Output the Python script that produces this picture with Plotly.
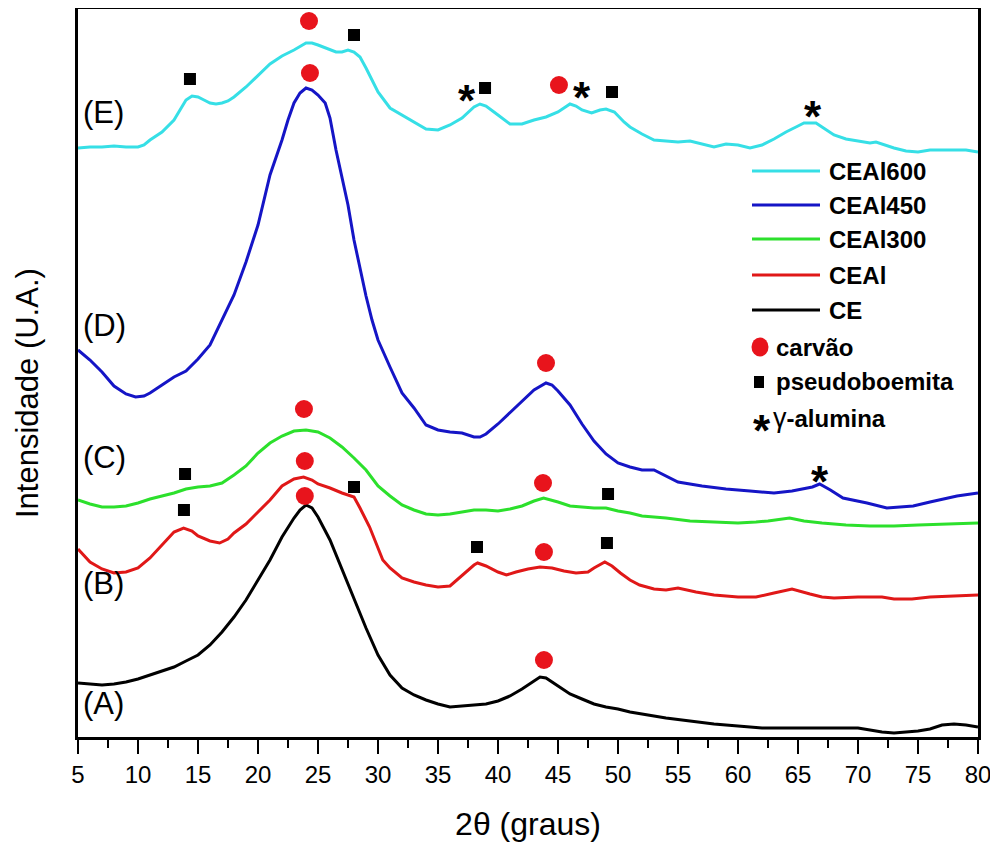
import plotly.graph_objects as go

# ---------------- data (2θ in degrees, intensity in arbitrary units) ----------------
ce_x = [5, 6, 7, 8, 9, 10, 11, 12, 13, 14, 15, 16, 17, 18, 19, 20, 21, 22, 23, 23.5, 24, 24.5, 25,
        26, 27, 28, 29, 30, 31, 32, 33, 34, 35, 36, 37, 38, 39, 40, 41, 42, 43, 43.5, 44,
        45, 46, 47, 48, 49, 50, 51, 52, 54, 56, 58, 60, 62, 64, 66, 68, 70,
        71, 72, 73, 74, 75, 76, 77, 78, 79, 80]
ce_y = [54, 53, 52, 53, 55, 58, 62, 66, 70, 76, 82, 92, 105, 120, 137, 157, 177, 200, 219, 227, 232, 229, 220,
        197, 167, 137, 109, 82, 62, 49, 42, 37, 33, 30, 31, 32, 33, 36, 41, 48, 56, 60, 59,
        51, 43, 38, 33, 30, 28, 25, 23, 19, 16, 13, 11, 9, 9, 9, 9, 9,
        7, 5, 4, 5, 6, 8, 12, 13, 12, 10]

ceal_x = [5, 5.5, 6, 7, 8, 9, 10, 11, 12, 13, 13.8, 14.5, 15, 16, 16.8, 17.5, 18, 19, 20, 21, 22, 23, 23.8,
          24.5, 25, 26, 27, 28, 28.5, 29.3, 30.4, 31, 32, 33, 34, 35, 36, 37, 38, 38.3, 39, 40, 40.7,
          41.5, 42.5, 43.5, 44.5, 45.5, 46.5, 47.5, 48, 48.9, 49.5, 50.2, 51, 51.8, 53, 54, 55, 56.5,
          58, 60, 61.5, 63, 64.5, 66, 67, 68, 70, 72, 73, 74.5, 76, 78, 80]
ceal_y = [188, 182, 175, 168, 164, 165, 169, 179, 192, 205, 209, 206, 201, 196, 194, 198, 204, 213, 225, 237, 251, 258, 260,
          257, 253, 249, 244, 240, 229, 210, 177, 169, 159, 155, 152, 150, 151, 162, 172, 174, 171, 165, 162,
          165, 168, 170, 169, 166, 164, 165, 169, 175, 171, 164, 157, 152, 148, 147, 149, 145,
          142, 140, 140, 144, 148, 143, 140, 139, 140, 140, 138, 138, 140, 141, 142]

ceal300_x = [5, 6, 7, 8, 9, 10, 11, 12, 13, 14, 15, 16, 17, 18, 19, 20, 21, 22, 23, 24, 25, 26, 27, 28, 29,
             30, 31, 32, 33, 34, 35, 36, 37, 38, 39, 40, 41, 42, 43, 43.8, 45, 46, 47, 48, 49, 50, 51, 52,
             54, 56, 58, 60, 61.5, 62.5, 64.3, 65.5, 67, 69, 71, 73, 75, 77, 79, 80]
ceal300_y = [237, 233, 230, 230, 231, 234, 238, 241, 244, 248, 250, 251, 254, 262, 271, 284, 294, 301, 306, 307, 305, 299, 290, 279, 267,
             251, 241, 232, 227, 223, 222, 223, 225, 227, 227, 226, 228, 231, 236, 239, 235, 231, 230, 229, 229, 226, 224, 221,
             219, 216, 215, 214, 215, 216, 219, 216, 214, 212, 211, 211, 212, 213, 214, 214]

ceal450_x = [5, 6, 7, 8, 9, 9.8, 10.5, 11, 12, 13, 14, 15, 16, 17, 18, 19, 20, 21, 22, 22.5, 23, 23.5, 24, 24.5,
             25, 25.6, 26, 26.5, 27, 27.5, 28, 28.5, 29, 29.5, 30, 31, 32, 33, 34, 35, 36, 37, 38, 38.5, 39,
             40, 41, 42, 43, 44, 44.5, 45, 46, 47, 48, 49, 50, 51, 52, 53, 54, 55, 57, 59, 61, 63, 64.5,
             65.5, 66.2, 66.8, 67.7, 68.75, 70.75, 72.4, 74.6, 76, 78.25, 80]
ceal450_y = [387, 377, 365, 351, 343, 340, 341, 344, 352, 360, 366, 378, 392, 417, 442, 475, 512, 562, 597, 617, 634, 644, 649, 647,
             642, 634, 619, 587, 559, 532, 497, 469, 441, 417, 397, 370, 344, 329, 312, 307, 305, 304, 300, 300, 303,
             313, 324, 335, 347, 354, 352, 346, 332, 313, 296, 283, 274, 270, 267, 267, 261, 255, 251, 248, 246, 244, 246,
             248, 250, 253, 247, 239, 234, 229, 231, 235, 241, 244]

ceal600_x = [5, 6, 7, 8, 9, 10, 10.5, 11, 12, 13, 13.5, 14, 14.5, 15, 15.5, 16, 16.5, 17, 17.5, 18, 19, 20, 21, 22, 23,
             24, 24.5, 25, 26, 26.5, 27, 27.5, 28, 28.5, 29, 29.5, 30, 31, 32, 33, 34, 35, 36, 37, 38, 38.5, 39,
             40, 41, 42, 43, 44, 45, 46, 46.5, 47, 47.8, 48.5, 49, 49.7, 50.5, 51, 52, 53, 54, 55, 56, 57, 58,
             59, 60, 61, 62, 63, 64, 65, 65.5, 66, 66.5, 67, 68, 69, 70, 71, 71.5, 72, 73, 74, 75, 76, 77, 78, 79, 80]
ceal600_y = [589, 590, 590, 591, 590, 590, 592, 597, 605, 617, 627, 637, 641, 640, 637, 634, 633, 634, 636, 640, 650, 662, 673, 681, 687,
             694, 694, 692, 687, 685, 685, 687, 685, 680, 669, 657, 645, 629, 622, 615, 608, 607, 612, 619, 630, 633, 631,
             622, 613, 613, 617, 620, 625, 633, 631, 627, 624, 627, 628, 625, 615, 610, 603, 597, 596, 595, 596, 593, 590,
             593, 592, 589, 592, 598, 605, 611, 614, 614, 614, 610, 602, 598, 596, 594, 595, 593, 589, 586, 585, 587, 587, 587, 587, 585]

# phase identification marks (peak positions)
carvao_x = [24.25, 24.33, 44.0, 23.83, 43.75, 23.9, 43.83, 23.9, 43.83, 45.08]
carvao_y = [716, 664, 374, 328, 254, 276, 185, 241, 77, 652]
pseudo_x = [14.33, 28.0, 38.92, 49.5, 13.92, 49.17, 13.83, 28.0, 38.25, 49.08]
pseudo_y = [658, 702, 649, 645, 263, 243, 227, 250, 190, 194]
alumina_x = [37.42, 47.0, 66.25, 66.83]
alumina_y = [648, 651, 632, 267]

series_names = ["CEAl600", "CEAl450", "CEAl300", "CEAl", "CE"]
series_colors = ["#36DFE6", "#1515C6", "#2CE02C", "#E01818", "#000000"]
curve_labels = ["(E)", "(D)", "(C)", "(B)", "(A)"]
curve_label_rows = [112, 325, 457, 583, 703]
x_ticks = [5, 10, 15, 20, 25, 30, 35, 40, 45, 50, 55, 60, 65, 70, 75, 80]

# ---------------- layout geometry ----------------
# the page body has an 8 px margin, so the figure is shifted by 8 px right and down
OFF = 8
W, H = 998 - OFF, 847 - OFF
PLOT_L, PLOT_R, PLOT_T, PLOT_B = 78, 978, 9, 737   # page pixels of the plotting area
ML, MT = PLOT_L - OFF, PLOT_T - OFF
MR = W - (PLOT_R - OFF)
MB = H - (PLOT_B - OFF)
PW, PH = PLOT_R - PLOT_L, PLOT_B - PLOT_T


def px(x):
    return (x - PLOT_L) / PW


def py(y):
    return (PLOT_B - y) / PH


FONT = "Liberation Sans, Arial, sans-serif"
RED = "#E8141C"

fig = go.Figure()
xs = [ceal600_x, ceal450_x, ceal300_x, ceal_x, ce_x]
ys = [ceal600_y, ceal450_y, ceal300_y, ceal_y, ce_y]
for name, color, x, y in zip(series_names, series_colors, xs, ys):
    fig.add_trace(go.Scatter(x=x, y=y, mode="lines", name=name,
                             line=dict(color=color, width=3), showlegend=False))

fig.add_trace(go.Scatter(x=carvao_x, y=carvao_y, mode="markers", name="carvão",
                         marker=dict(symbol="circle", size=18, color=RED), showlegend=False))
fig.add_trace(go.Scatter(x=pseudo_x, y=pseudo_y, mode="markers", name="pseudoboemita",
                         marker=dict(symbol="square", size=12, color="black"), showlegend=False))

annotations = []
for ax_, ay_ in zip(alumina_x, alumina_y):
    annotations.append(dict(x=ax_, y=ay_, xref="x", yref="y", text="<b>*</b>", showarrow=False,
                            font=dict(family=FONT, size=44, color="black"),
                            xanchor="center", yanchor="middle", yshift=-11))

for lab, ry in zip(curve_labels, curve_label_rows):
    annotations.append(dict(x=px(81), y=py(ry), xref="paper", yref="paper", text=lab, showarrow=False,
                            font=dict(family=FONT, size=31, color="black"),
                            xanchor="left", yanchor="middle"))

# y-axis title
annotations.append(dict(x=px(27), y=py(393), xref="paper", yref="paper", text="Intensidade (U.A.)",
                        textangle=-90, showarrow=False, font=dict(family=FONT, size=31, color="black"),
                        xanchor="center", yanchor="middle"))

# ---------------- hand-made legend ----------------
shapes = []
leg_rows = [171, 205, 239, 275, 310]
for name, color, ry in zip(series_names, series_colors, leg_rows):
    shapes.append(dict(type="line", xref="paper", yref="paper", x0=px(752), x1=px(820),
                       y0=py(ry), y1=py(ry), line=dict(color=color, width=3)))
    annotations.append(dict(x=px(827), y=py(ry), xref="paper", yref="paper", text="<b>%s</b>" % name,
                            showarrow=False, font=dict(family=FONT, size=24, color="black"),
                            xanchor="left", yanchor="middle"))
shapes.append(dict(type="circle", xref="paper", yref="paper", x0=px(751.5), x1=px(768.5),
                   y0=py(356.5), y1=py(337.5), fillcolor=RED, line=dict(width=0)))
annotations.append(dict(x=px(774), y=py(347), xref="paper", yref="paper", text="<b>carvão</b>",
                        showarrow=False, font=dict(family=FONT, size=24, color="black"),
                        xanchor="left", yanchor="middle"))
shapes.append(dict(type="rect", xref="paper", yref="paper", x0=px(754), x1=px(764),
                   y0=py(388), y1=py(376), fillcolor="black", line=dict(width=0)))
annotations.append(dict(x=px(774), y=py(382), xref="paper", yref="paper", text="<b>pseudoboemita</b>",
                        showarrow=False, font=dict(family=FONT, size=24, color="black"),
                        xanchor="left", yanchor="middle"))
annotations.append(dict(x=px(762), y=py(419), xref="paper", yref="paper", text="<b>*</b>",
                        showarrow=False, font=dict(family=FONT, size=44, color="black"),
                        xanchor="center", yanchor="middle", yshift=-11))
annotations.append(dict(x=px(771), y=py(418), xref="paper", yref="paper",
                        text="<span style='font-size:27px'>γ</span><b>-alumina</b>",
                        showarrow=False, font=dict(family=FONT, size=24, color="black"),
                        xanchor="left", yanchor="middle"))

fig.update_layout(
    width=W, height=H,
    margin=dict(l=ML, r=MR, t=MT, b=MB, autoexpand=False),
    paper_bgcolor="white", plot_bgcolor="white",
    showlegend=False,
    annotations=annotations, shapes=shapes,
    font=dict(family=FONT, color="black"),
    xaxis=dict(range=[5, 80], tickmode="array", tickvals=x_ticks,
               ticks="outside", ticklen=14, tickwidth=2, tickcolor="black",
               minor=dict(dtick=2.5, tick0=5, ticks="outside", ticklen=8, tickwidth=2, tickcolor="black"),
               showline=True, linewidth=2.5, linecolor="black", mirror=True,
               showgrid=False, zeroline=False,
               tickfont=dict(family=FONT, size=24, color="black"),
               title=dict(text="2θ (graus)", font=dict(family=FONT, size=32, color="black"), standoff=27)),
    yaxis=dict(range=[0, PH], showticklabels=False, ticks="",
               showline=True, linewidth=2.5, linecolor="black", mirror=True,
               showgrid=False, zeroline=False),
)

fig.write_html("out.html")
